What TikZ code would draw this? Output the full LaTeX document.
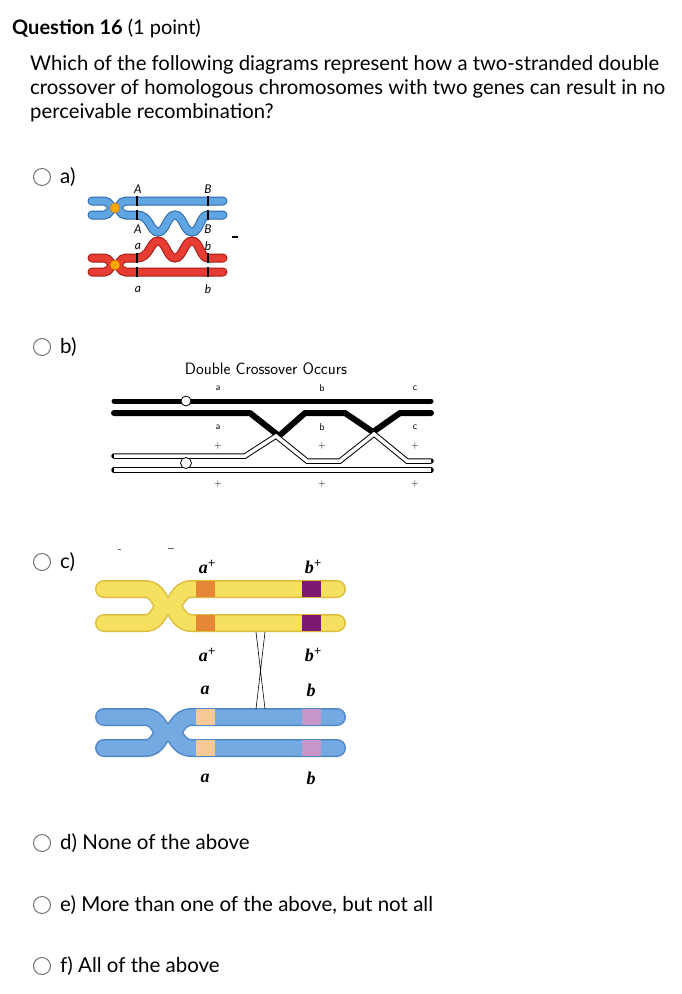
\documentclass[tikz,border=0pt]{standalone}
\usepackage{fontspec}
\setmainfont{Lato}
\newfontfamily\serifbi{Liberation Serif}
\begin{document}
\begin{tikzpicture}[x=1pt,y=-1pt,
  radio/.style={draw=black!55,line width=1pt,fill=white,circle,minimum size=17pt,inner sep=0pt},
  opt/.style={anchor=west,font=\fontsize{20.5}{24}\selectfont,inner sep=0pt},
  gl/.style={font=\fontsize{12}{13}\selectfont\itshape,inner sep=0pt},
  bl/.style={font=\fontsize{10}{11}\selectfont\sffamily,inner sep=0pt},
  cl/.style={font=\serifbi\bfseries\itshape\fontsize{18}{19}\selectfont,inner sep=0pt}]
\useasboundingbox (0,0) rectangle (682,994);
\fill[white] (0,0) rectangle (682,994);
% header
\node[anchor=west,inner sep=0pt,font=\fontsize{20}{22}\selectfont] (q) at (12,28) {\textbf{Question 16} (1 point)};
\node[anchor=north west,inner sep=0pt,align=left,font=\fontsize{20.3}{24.2}\selectfont] (txt) at (30,55)
 {Which of the following diagrams represent how a two-stranded double\\crossover of homologous chromosomes with two genes can result in no\\perceivable recombination?};
% radios
\node[radio] (ra) at (42,177) {}; \node[opt] (la) at (60,177) {a)};
\node[radio] (rb) at (42,347) {}; \node[opt] (lb) at (60,347) {b)};
\node[radio] (rc) at (42,562) {}; \node[opt] (lc) at (60,562) {c)};
\node[radio] (rd) at (42,843) {}; \node[opt] (ld) at (60,843) {d) None of the above};
\node[radio] (re) at (42,905) {}; \node[opt] (le) at (60,905) {e) More than one of the above, but not all};
\node[radio] (rf) at (42,966) {}; \node[opt] (lf) at (60,966) {f) All of the above};
% ===== a) =====
\definecolor{ablue}{RGB}{95,165,225}\definecolor{ablueD}{RGB}{40,100,170}
\definecolor{ared}{RGB}{230,60,50}\definecolor{aredD}{RGB}{160,25,20}
\def\bA{(92,201)--(104,201) .. controls (110,201) and (110,208) .. (115,208) .. controls (120,208) and (120,201) .. (126,201) -- (223,201)}
\def\bB{(92,215)--(104,215) .. controls (110,215) and (110,208) .. (115,208) .. controls (120,208) and (120,215) .. (126,215) -- (137,215) .. controls (150,215) and (150,232) .. (158,232) .. controls (166,232) and (167,215) .. (175,215) .. controls (183,215) and (184,232) .. (192,232) .. controls (200,232) and (200,215) .. (208,215) -- (223,215)}
\def\rA{(92,258)--(104,258) .. controls (110,258) and (110,265) .. (115,265) .. controls (120,265) and (120,258) .. (126,258) -- (137,258) .. controls (150,258) and (150,241) .. (158,241) .. controls (166,241) and (167,258) .. (175,258) .. controls (183,258) and (184,241) .. (192,241) .. controls (200,241) and (200,258) .. (208,258) -- (223,258)}
\def\rB{(92,272)--(104,272) .. controls (110,272) and (110,265) .. (115,265) .. controls (120,265) and (120,272) .. (126,272) -- (223,272)}
\foreach \p in {\bA,\bB} {\draw[ablueD,line width=9pt,line cap=round] \p;}
\foreach \p in {\bA,\bB} {\draw[ablue,line width=7pt,line cap=round] \p;}
\foreach \p in {\rA,\rB} {\draw[aredD,line width=9pt,line cap=round] \p;}
\foreach \p in {\rA,\rB} {\draw[ared,line width=7pt,line cap=round] \p;}
\foreach \x in {137,208} {
  \draw[black,line width=2pt] (\x,196)--(\x,206) (\x,210)--(\x,220)
     (\x,253)--(\x,263) (\x,267)--(\x,277);}
\node[circle,fill=orange!70!yellow,draw=orange!80!black,minimum size=10pt,inner sep=0pt] (ca1) at (115,208) {};
\node[circle,fill=orange!70!yellow,draw=orange!80!black,minimum size=10pt,inner sep=0pt] (ca2) at (115,265) {};
\node[gl] (A1) at (138,189) {A}; \node[gl] (B1) at (208,189) {B};
\node[gl] (A2) at (138,229) {A}; \node[gl] (B2) at (208,229) {B};
\node[gl] (a1) at (138,246) {a}; \node[gl] (b1) at (208,246) {b};
\node[gl] (a2) at (138,289) {a}; \node[gl] (b2) at (208,289) {b};
\draw[line width=1.2pt] (232,237)--(238,237);
% ===== b) =====
\node[inner sep=0pt,font=\sffamily\fontsize{16.5}{18}\selectfont] (dco) at (266,369) {Double Crossover Occurs};
\foreach \x/\t in {218/a,322/b,415/c} {
  \node[bl] at (\x,388) {\t}; \node[bl] at (\x,427) {\t};
  \node[bl] at (\x,446) {+}; \node[bl] at (\x,484) {+};}
\draw[line width=5pt,line cap=round] (114,401)--(431,401);
\draw[line width=6pt,line join=bevel,line cap=round] (114,413)--(250,413)--(279,436)--(305,413)--(345,413)--(373,432)--(400,413)--(431,413);
\def\wA{(114,456)--(245,456)--(276,436)--(307,461)--(340,461)--(374,434)--(407,461)--(431,461)}
\draw[line width=5.5pt,line cap=round] \wA; \draw[white,line width=3.5pt] \wA;
\draw[line width=5.5pt,line cap=round] (114,470)--(431,470); \draw[white,line width=3.5pt] (114,470)--(431,470);
\node[circle,draw,fill=white,minimum size=10pt,inner sep=0pt,line width=0.8pt] (cb1) at (186,401) {};
\node[circle,draw,fill=white,minimum size=11pt,inner sep=0pt,line width=0.8pt] (cb2) at (186,463) {};
% ===== c) =====
\definecolor{cyel}{RGB}{245,225,95}\definecolor{cyelD}{RGB}{220,190,60}
\definecolor{cblu}{RGB}{115,170,225}\definecolor{cbluD}{RGB}{80,135,200}
\newcommand{\chrom}[4]{% y1 y2 fill outline
  \def\pa{(104,#1)--(145,#1) .. controls (160,#1) and (158,{(#1+#2)/2}) .. (168,{(#1+#2)/2}) .. controls (178,{(#1+#2)/2}) and (176,#1) .. (192,#1) -- (337,#1)}
  \def\pb{(104,#2)--(145,#2) .. controls (160,#2) and (158,{(#1+#2)/2}) .. (168,{(#1+#2)/2}) .. controls (178,{(#1+#2)/2}) and (176,#2) .. (192,#2) -- (337,#2)}
  \draw[#4,line width=18pt,line cap=round] \pa; \draw[#4,line width=18pt,line cap=round] \pb;
  \draw[#3,line width=15pt,line cap=round] \pa; \draw[#3,line width=15pt,line cap=round] \pb;}
\chrom{589}{623}{cyel}{cyelD}
\chrom{717}{748}{cblu}{cbluD}
\definecolor{or1}{RGB}{230,135,55}\definecolor{pu1}{RGB}{125,25,115}
\definecolor{or2}{RGB}{248,200,150}\definecolor{pu2}{RGB}{200,150,200}
\foreach \y in {589,623} {\fill[or1] (196,\y-8) rectangle (215,\y+8); \fill[pu1] (302,\y-8) rectangle (321,\y+8);}
\foreach \y in {717,748} {\fill[or2] (196,\y-8) rectangle (215,\y+8); \fill[pu2] (302,\y-8) rectangle (321,\y+8);}
\draw[line width=0.6pt] (256,632)--(265,709) (265,632)--(256,709);
\newcommand{\pl}{\raisebox{0.35em}{\fontsize{13}{13}\selectfont +}}
\node[cl] (ap1) at (207,567) {a\pl}; \node[cl] (bp1) at (313,567) {b\pl};
\node[cl] (ap2) at (207,655) {a\pl}; \node[cl] (bp2) at (313,655) {b\pl};
\node[cl] (am1) at (205,690) {a}; \node[cl] (bm1) at (311,690) {b};
\node[cl] (am2) at (205,778) {a}; \node[cl] (bm2) at (311,778) {b};
\draw[black!60,line width=0.8pt] (118,549)--(121,549) (168,548)--(174,548);
\end{tikzpicture}
\end{document}
